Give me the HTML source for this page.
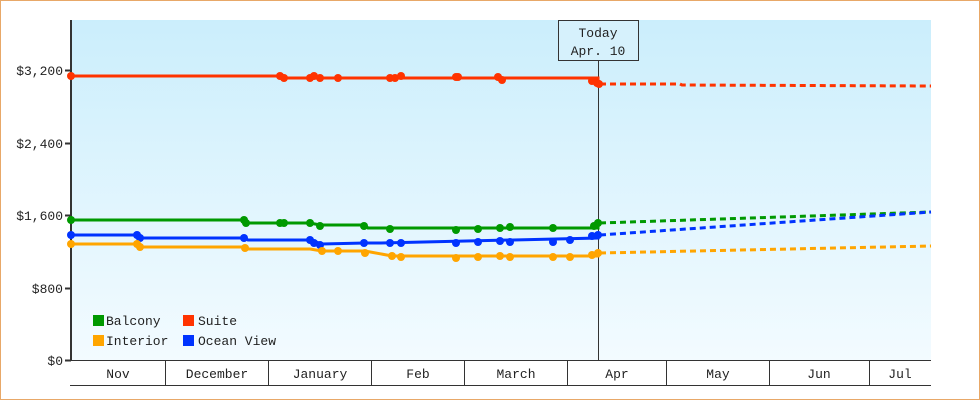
<!DOCTYPE html>
<html><head><meta charset="utf-8"><style>
html,body{margin:0;padding:0;background:#fff}
svg{display:block}
text{font-family:"Liberation Mono","DejaVu Sans Mono",monospace;font-size:13px;fill:#222}
</style></head><body>
<svg width="980" height="400" viewBox="0 0 980 400">
<defs>
<linearGradient id="bg" x1="0" y1="0" x2="0" y2="1">
<stop offset="0" stop-color="#cbeefc"/><stop offset="1" stop-color="#f3fbff"/>
</linearGradient>
</defs>
<rect x="0.5" y="0.5" width="979" height="399" fill="#fff" stroke="#e8a868"/>
<rect x="71" y="20" width="860" height="340" fill="url(#bg)"/>
<!-- axes -->
<line x1="71" y1="20" x2="71" y2="361" stroke="#333" stroke-width="2"/>
<line x1="70" y1="360.5" x2="931" y2="360.5" stroke="#333"/>
<line x1="70" y1="385.5" x2="931" y2="385.5" stroke="#333"/>
<g stroke="#333">
<line x1="165.5" y1="360" x2="165.5" y2="385"/><line x1="268.5" y1="360" x2="268.5" y2="385"/>
<line x1="371.5" y1="360" x2="371.5" y2="385"/><line x1="464.5" y1="360" x2="464.5" y2="385"/>
<line x1="567.5" y1="360" x2="567.5" y2="385"/><line x1="666.5" y1="360" x2="666.5" y2="385"/>
<line x1="769.5" y1="360" x2="769.5" y2="385"/><line x1="869.5" y1="360" x2="869.5" y2="385"/>
<line x1="65" y1="70.5" x2="71" y2="70.5" stroke-width="2"/><line x1="65" y1="143.5" x2="71" y2="143.5" stroke-width="2"/>
<line x1="65" y1="215.5" x2="71" y2="215.5" stroke-width="2"/><line x1="65" y1="288.5" x2="71" y2="288.5" stroke-width="2"/>
<line x1="65" y1="360.5" x2="71" y2="360.5" stroke-width="2"/>
</g>
<g text-anchor="end">
<text x="63" y="75">$3,200</text><text x="63" y="148">$2,400</text><text x="63" y="220">$1,600</text>
<text x="63" y="293">$800</text><text x="63" y="365">$0</text>
</g>
<g text-anchor="middle">
<text x="118" y="378">Nov</text><text x="217" y="378">December</text><text x="320" y="378">January</text>
<text x="418" y="378">Feb</text><text x="516" y="378">March</text><text x="617" y="378">Apr</text>
<text x="718" y="378">May</text><text x="819" y="378">Jun</text><text x="900" y="378">Jul</text>
</g>
<!-- today -->
<line x1="598.5" y1="60" x2="598.5" y2="360" stroke="#333"/>
<rect x="558.5" y="20.5" width="80" height="40" fill="#d6f1fc" stroke="#333"/>
<text x="598" y="37" text-anchor="middle">Today</text>
<text x="598" y="55" text-anchor="middle">Apr. 10</text>
<!-- series solid -->
<g fill="none" stroke-width="3">
<polyline stroke="#ff3300" points="71,76 280,76 284,78 598,78 598,82"/>
<polyline stroke="#009900" points="71,220 245,220 247,223 310,223 320,225 365,225 368,228 598,228 598,223"/>
<polyline stroke="#0033ff" points="71,235 137,235 140,238 245,238 248,240 310,240 322,244 365,243 380,243 598,238 598,235"/>
<polyline stroke="#ffa500" points="71,244 137,244 140,247 245,247 248,249 310,249 322,251 365,251 392,256 598,256 598,253"/>
</g>
<g fill="none" stroke-width="3" stroke-dasharray="6,4">
<polyline stroke="#ff3300" points="600,84 680,84 682,85 931,86"/>
<polyline stroke="#009900" points="600,223 931,212"/>
<polyline stroke="#0033ff" points="600,235 931,212"/>
<polyline stroke="#ffa500" points="600,253 931,246"/>
</g>
<!-- markers -->
<g fill="#ff3300">
<circle cx="71" cy="76" r="4"/><circle cx="280" cy="76" r="4"/><circle cx="284" cy="78" r="4"/>
<circle cx="310" cy="78" r="4"/><circle cx="314" cy="76" r="4"/><circle cx="320" cy="78" r="4"/>
<circle cx="338" cy="78" r="4"/><circle cx="390" cy="78" r="4"/><circle cx="395" cy="78" r="4"/><circle cx="401" cy="76" r="4"/>
<circle cx="456" cy="77" r="4"/><circle cx="458" cy="77" r="4"/><circle cx="498" cy="77" r="4"/><circle cx="502" cy="80" r="4"/>
<circle cx="592" cy="81" r="4"/><circle cx="597" cy="83" r="4"/><circle cx="599" cy="84" r="4"/>
</g>
<g fill="#009900">
<circle cx="71" cy="220" r="4"/><circle cx="244" cy="220" r="4"/><circle cx="246" cy="223" r="4"/>
<circle cx="280" cy="223" r="4"/><circle cx="284" cy="223" r="4"/><circle cx="310" cy="223" r="4"/><circle cx="320" cy="226" r="4"/>
<circle cx="364" cy="226" r="4"/><circle cx="390" cy="229" r="4"/><circle cx="456" cy="230" r="4"/><circle cx="478" cy="229" r="4"/>
<circle cx="500" cy="228" r="4"/><circle cx="510" cy="227" r="4"/><circle cx="553" cy="228" r="4"/>
<circle cx="594" cy="226" r="4"/><circle cx="598" cy="223" r="4"/>
</g>
<g fill="#0033ff">
<circle cx="71" cy="235" r="4"/><circle cx="137" cy="235" r="4"/><circle cx="140" cy="238" r="4"/>
<circle cx="244" cy="238" r="4"/><circle cx="310" cy="240" r="4"/><circle cx="314" cy="243" r="4"/><circle cx="320" cy="245" r="4"/>
<circle cx="364" cy="243" r="4"/><circle cx="390" cy="243" r="4"/><circle cx="401" cy="243" r="4"/><circle cx="456" cy="243" r="4"/>
<circle cx="478" cy="242" r="4"/><circle cx="500" cy="241" r="4"/><circle cx="510" cy="242" r="4"/><circle cx="553" cy="242" r="4"/>
<circle cx="570" cy="240" r="4"/><circle cx="592" cy="236" r="4"/><circle cx="598" cy="235" r="4"/>
</g>
<g fill="#ffa500">
<circle cx="71" cy="244" r="4"/><circle cx="137" cy="244" r="4"/><circle cx="140" cy="247" r="4"/>
<circle cx="245" cy="248" r="4"/><circle cx="322" cy="251" r="4"/><circle cx="338" cy="251" r="4"/>
<circle cx="365" cy="253" r="4"/><circle cx="392" cy="256" r="4"/><circle cx="401" cy="257" r="4"/><circle cx="456" cy="258" r="4"/>
<circle cx="478" cy="257" r="4"/><circle cx="500" cy="256" r="4"/><circle cx="510" cy="257" r="4"/><circle cx="553" cy="257" r="4"/>
<circle cx="570" cy="257" r="4"/><circle cx="592" cy="255" r="4"/><circle cx="598" cy="253" r="4"/>
</g>
<!-- legend -->
<rect x="93" y="315" width="11" height="11" fill="#009900"/><text x="106" y="325">Balcony</text>
<rect x="183" y="315" width="11" height="11" fill="#ff3300"/><text x="198" y="325">Suite</text>
<rect x="93" y="335" width="11" height="11" fill="#ffa500"/><text x="106" y="345">Interior</text>
<rect x="183" y="335" width="11" height="11" fill="#0033ff"/><text x="198" y="345">Ocean View</text>
</svg>
</body></html>
